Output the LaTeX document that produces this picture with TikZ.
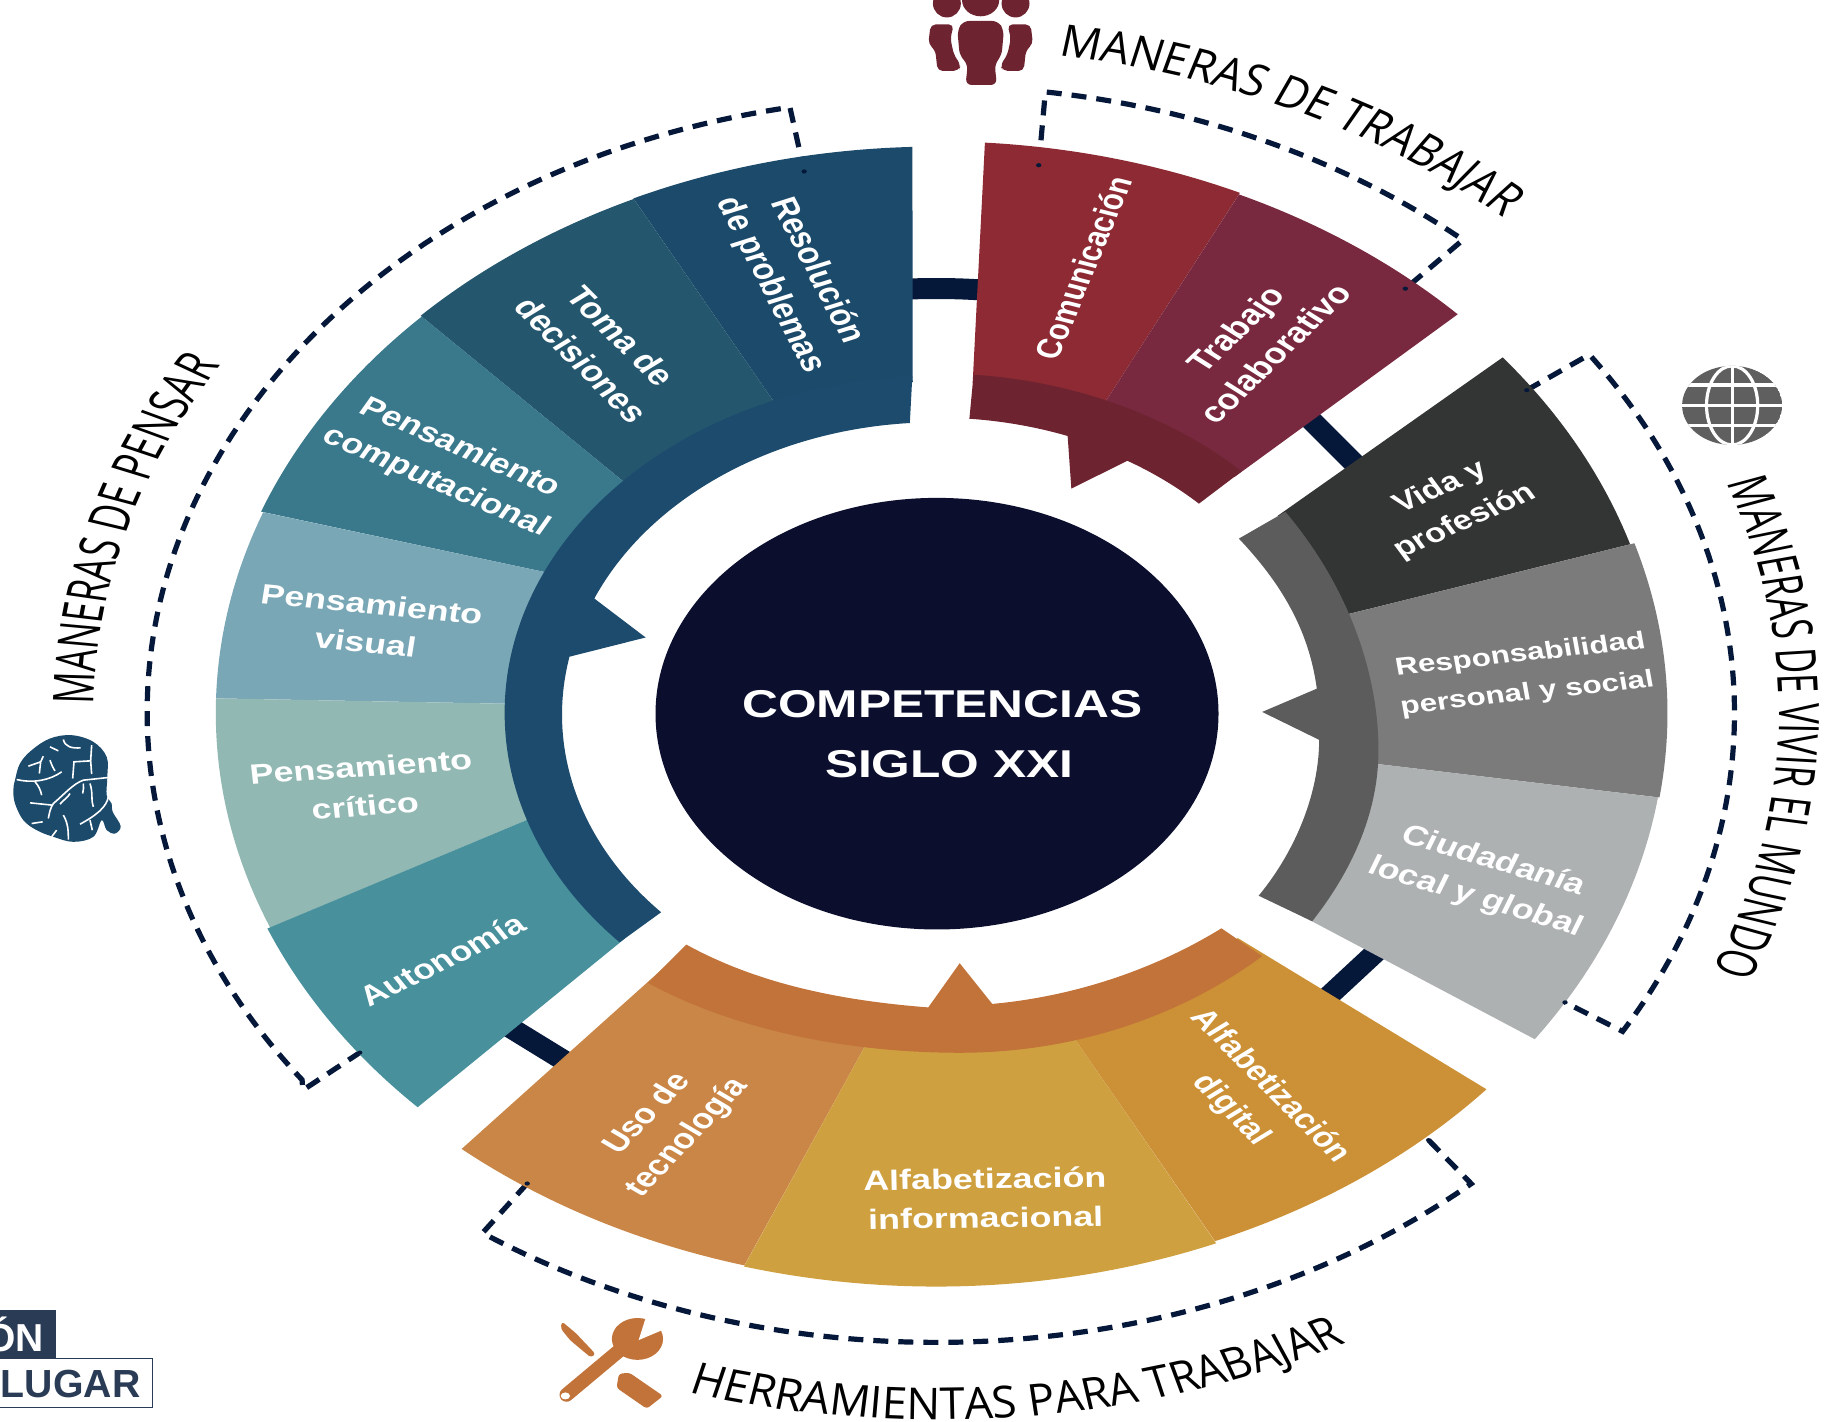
\documentclass[tikz,border=0pt]{standalone}
\usepackage{fontspec}
\setmainfont{Liberation Sans}
\newfontfamily\capfam[FakeStretch=0.8]{Open Sans}
\usetikzlibrary{decorations.text}
\definecolor{navy}{HTML}{05183A}
\definecolor{bResol}{HTML}{1B4A6B}
\definecolor{bToma}{HTML}{24566E}
\definecolor{bComp}{HTML}{3A788C}
\definecolor{bVis}{HTML}{79A7B6}
\definecolor{bCrit}{HTML}{92B8B3}
\definecolor{bAuto}{HTML}{47909C}
\definecolor{bBand}{HTML}{1C4B6D}
\definecolor{rCom}{HTML}{8D2A33}
\definecolor{rTra}{HTML}{78293F}
\definecolor{rBand}{HTML}{6E2430}
\definecolor{gVid}{HTML}{333534}
\definecolor{gRes}{HTML}{7B7B7B}
\definecolor{gCiu}{HTML}{AEB1B2}
\definecolor{gBand}{HTML}{5C5C5C}
\definecolor{oUso}{HTML}{C98646}
\definecolor{oInf}{HTML}{CFA040}
\definecolor{oDig}{HTML}{CC9136}
\definecolor{oBand}{HTML}{C2733A}
\definecolor{core}{HTML}{0B0E2D}
\definecolor{logo}{HTML}{2A3B55}
\definecolor{globeg}{HTML}{5F5F5F}
\newcommand\ringseg[7]{\fill[#1] (#2:#6pt) arc[start angle=#2,end angle=#3,radius=#6pt] -- (#4:#7pt) arc[start angle=#4,end angle=#5,radius=#7pt] -- cycle;}
\newcommand\seglab[6][14]{\begin{scope}[shift={(#2,#3)},xscale=1.28,transform shape]\node[text=white,align=center,rotate=#4,font=\fontsize{#1}{19.5}\selectfont\bfseries,inner sep=0pt] (#5) {#6};\end{scope}}
\newcommand\capstyle{\capfam\fontsize{22}{26}\selectfont}
\newcommand\capstylev{\capfam\fontsize{21.8}{26}\selectfont}
\tikzset{
 bracket/.style={navy,line width=2.6pt,dash pattern=on 7.5pt off 5pt},
 ringscope/.style={shift={(805,613)},xscale=1.28*0.5816,yscale=0.5816},
 captionscope/.style={transform canvas={shift={(805,613)},xscale=1.28}},
 bar/.style={navy,line width=10.5pt},
 endtip/.style={navy}
}
\begin{document}
\begin{tikzpicture}[x=0.5816pt,y=-0.5816pt]
\useasboundingbox (0,0) rectangle (1568,1222.4);
% connector bars and brackets
\begin{scope}[ringscope]
\draw[bar] (96:365pt) arc[start angle=96,end angle=82,radius=365pt];
\draw[bracket] (100.8:474pt) -- (100.7:530pt) arc[start angle=100.7,end angle=216.5,radius=530pt] -- (217.3:535pt) -- (217:485pt);
\draw[bracket] (81.7:476pt) -- (82.2:539pt) arc[start angle=82.2,end angle=49,radius=539pt] -- (49.2:482pt);
\draw[bracket] (35:484pt) -- (35.1:536pt) arc[start angle=35.1,end angle=-30.7,radius=536pt] -- (-30.5:490pt);
\draw[bracket] (235.8:489pt) -- (235.7:541pt) arc[start angle=235.7,end angle=311.6,radius=541pt] -- (312:494pt);
\end{scope}
\coordinate (barA) at (1118,352); \coordinate (barB) at (1168,402);
\coordinate (barC) at (1192,810); \coordinate (barD) at (1136,862);
\coordinate (barE) at (425,875); \coordinate (barF) at (495,918);
\draw[bar] (barA) -- (barB);
\draw[bar] (barC) -- (barD);
\draw[bar] (barE) -- (barF);
\begin{scope}[ringscope]
% blue
\ringseg{bResol}{91.9}{114.7}{112.1}{93.2}{487}{285}
\ringseg{bToma}{114.7}{135.4}{136.6}{112.1}{486.5}{285}
\ringseg{bComp}{135.4}{159.1}{155.1}{136.6}{485.5}{285}
\ringseg{bVis}{159.1}{178.5}{178.4}{155.1}{484}{285}
\ringseg{bCrit}{178.5}{202.4}{198.3}{178.4}{484}{285}
\ringseg{bAuto}{202.4}{224.2}{222.8}{198.3}{486}{285}
\fill[bBand] (93.2:290pt) arc[start angle=93.2,end angle=222.8,radius=290pt] -- (222.8:252pt) arc[start angle=222.8,end angle=168.5,radius=250pt] -- (-195.3pt,65pt) -- (156.8:250pt) arc[start angle=156.8,end angle=94.1,radius=250pt] -- cycle;
% red
\ringseg{rCom}{86.2}{65.5}{67.1}{85.1}{491.5}{285}
\ringseg{rTra}{65.5}{44.4}{45.4}{67.1}{490}{285}
\fill[rBand] (85.1:292pt) arc[start angle=85.1,end angle=45.4,radius=292pt] -- (45.6:252pt) arc[start angle=45.6,end angle=59.4,radius=252pt] -- (90.6pt,193pt) -- (69.7:254pt) arc[start angle=69.7,end angle=85,radius=254pt] -- cycle;
% grey
\ringseg{gVid}{38.8}{17.3}{17.1}{36.5}{488}{285}
\ringseg{gRes}{17.3}{-8.5}{-8.4}{17.1}{491}{285}
\ringseg{gCiu}{-8.5}{-34.9}{-35.4}{-8.4}{490}{300}
% orange
\ringseg{oUso}{229.6}{254.8}{261}{230.1}{492}{280}
\ringseg{oInf}{254.8}{292.4}{287.8}{261}{493}{280}
\ringseg{oDig}{292.4}{318.8}{316.3}{287.8}{491}{280}
% bracket end tips
\fill[endtip] (100.8:474pt) circle[radius=1.8pt];
\fill[endtip] (217:485pt) circle[radius=1.8pt];
\fill[endtip] (81.7:476pt) circle[radius=1.8pt];
\fill[endtip] (49.2:482pt) circle[radius=1.8pt];
\fill[endtip] (35:484pt) circle[radius=1.8pt];
\fill[endtip] (-30.5:490pt) circle[radius=1.8pt];
\fill[endtip] (235.8:489pt) circle[radius=1.8pt];
\fill[endtip] (312:494pt) circle[radius=1.8pt];
\end{scope}
% orange band
\fill[oBand] (557,845) .. controls (625,882) and (720,905) .. (825,905) .. controls (930,905) and (1020,870) .. (1085,822) -- (1050,798) .. controls (990,835) and (920,857) .. (853,863) -- (825,828) -- (798,866) .. controls (720,860) and (650,845) .. (590,812) -- cycle;
% grey band
\fill[gBand] (1105,440) .. controls (1160,505) and (1185,580) .. (1185,645) .. controls (1185,695) and (1165,745) .. (1128,792) -- (1082,770) .. controls (1115,730) and (1134,680) .. (1134,636) -- (1085,612) -- (1132,592) .. controls (1125,540) and (1100,500) .. (1065,463) -- cycle;
% centre
\fill[core] (805.5,613.5) ellipse[x radius=242,y radius=185.5];
\seglab[19.4]{810}{605}{0}{t1}{COMPETENCIAS}
\seglab[19.4]{816}{657}{0}{t2}{SIGLO XXI}
% segment labels
\seglab[14.3]{682}{239}{-68}{l1}{Resolución\\de problemas}
\seglab[14.5]{517}{299}{-52}{l2}{Toma de\\decisiones}
\seglab{385}{400}{-29}{l3}{Pensamiento\\computacional}
\seglab{317}{536}{-7}{l4}{Pensamiento\\visual}
\seglab{312}{676}{5}{l5}{Pensamiento\\crítico}
\seglab{380}{825}{32}{l6}{Autonomía}
\seglab[13.8]{931}{230}{72}{l7}{Comunicación}
\seglab[14.3]{1079}{293}{51}{l8}{Trabajo\\colaborativo}
\seglab[13.5]{1249}{434}{30}{l9}{Vida y\\profesión}
\seglab[12.3]{1310}{580}{8}{l10}{Responsabilidad\\personal y social}
\seglab[14]{1276}{756}{-21}{l11}{Ciudadanía\\local y global}
\seglab{574}{968}{53}{l12}{Uso de\\tecnología}
\seglab{847}{1030}{1}{l13}{Alfabetización\\informacional}
\seglab[13.7]{1075}{944}{-52}{l14}{Alfabetización\\digital}
% curved captions
\begin{scope}[captionscope]
\path[decorate,decoration={text along path,text align=center,text={|\capstyle|MANERAS DE TRABAJAR}}] (92.5:571*0.5816pt) arc[start angle=92.5,end angle=37.5,radius=571*0.5816pt];
\path[decorate,decoration={text along path,text align=center,text={|\capstyle|MANERAS DE PENSAR}}] (188.7:566*0.5816pt) arc[start angle=188.7,end angle=138.7,radius=566*0.5816pt];
\path[decorate,decoration={text along path,text align=center,text={|\capstylev|MANERAS DE VIVIR EL MUNDO}}] (31:566*0.5816pt) arc[start angle=31,end angle=-33.5,radius=566*0.5816pt];
\path[decorate,decoration={text along path,text align=center,text={|\capstyle|HERRAMIENTAS PARA TRABAJAR}}] (245.5:607.5*0.5816pt) arc[start angle=245.5,end angle=305.5,radius=607.5*0.5816pt];
\end{scope}
% people icon
\fill[rBand] (843,0) circle[x radius=16,y radius=14] (814,3) circle[x radius=12,y radius=12] (873,3) circle[x radius=12,y radius=12];
\fill[rBand,rounded corners=3pt] (828,18) -- (858,18) -- (863,26) -- (861,48) -- (855,55) -- (857,73) -- (830,73) -- (832,55) -- (825,48) -- (823,26) -- cycle;
\fill[rBand,rounded corners=2.5pt] (800,21) -- (820,21) -- (817,33) -- (820,47) -- (826,56) -- (824,61) -- (806,61) -- (804,43) -- (798,38) -- cycle;
\fill[rBand,rounded corners=2.5pt] (886,21) -- (866,21) -- (869,33) -- (866,47) -- (860,56) -- (862,61) -- (880,61) -- (882,43) -- (888,38) -- cycle;
% globe icon
\begin{scope}
\clip (1489,348.5) ellipse[x radius=43,y radius=34];
\fill[globeg] (1489,348.5) ellipse[x radius=43,y radius=34];
\draw[white,line width=1.6pt] (1440,331) -- (1540,331) (1440,348.5) -- (1540,348.5) (1440,366) -- (1540,366) (1489,310) -- (1489,390);
\draw[white,line width=1.6pt] (1489,348.5) ellipse[x radius=22,y radius=34];
\end{scope}
% brain icon
\begin{scope}[shift={(0,584.7)},x=0.16665pt,y=-0.16665pt]
\fill[bResol] plot[smooth cycle,tension=0.6] coordinates {(45,300) (60,250) (95,210) (150,175) (215,165) (280,185) (320,230) (322,290) (320,345) (335,370) (338,395) (362,438) (345,460) (320,450) (305,420) (280,470) (220,485) (160,470) (110,450) (70,420) (45,370) (40,330)};
\draw[white,line width=0.8pt] (50,298) .. controls (100,310) and (150,300) .. (185,275)
 (150,200) -- (175,212)
 (85,258) -- (122,245) -- (118,280) (122,245) -- (130,228)
 (150,240) .. controls (155,255) and (160,265) .. (165,272)
 (190,178) .. controls (195,200) and (215,205) .. (242,203)
 (275,195) -- (272,242) -- (222,245) -- (218,295) (272,242) -- (275,282)
 (325,292) -- (250,300) .. controls (220,310) and (190,345) .. (160,370) .. controls (150,385) and (148,400) .. (145,415)
 (90,368) -- (158,375)
 (105,305) .. controls (115,315) and (122,330) .. (125,345)
 (250,310) .. controls (252,320) and (250,330) .. (248,340)
 (270,310) .. controls (280,340) and (272,360) .. (280,380)
 (210,340) .. controls (205,350) and (190,360) .. (180,372)
 (325,350) .. controls (320,380) and (290,405) .. (240,432) (270,420) -- (277,450)
 (190,405) .. controls (205,430) and (205,455) .. (205,478)
 (95,430) -- (128,425) (155,470) -- (170,450);
\end{scope}
% tools icon
\fill[oBand] (548,1151) circle[x radius=22,y radius=18];
\draw[oBand,line width=7pt,line cap=round] (487,1199) -- (536,1158);
\fill[white] (549,1152) -- (556,1130) -- (575,1141) -- cycle;
\fill[white] (486,1200) circle[x radius=4,y radius=3];
\fill[oBand,rounded corners=1.5pt] (483,1136) -- (495,1146) -- (512,1164) -- (508,1167) -- (490,1152) -- (482,1142) -- cycle;
\fill[oBand,rounded corners=1.5pt] (532,1181) -- (541,1180) -- (570,1200) -- (556,1211) -- (530,1193) -- cycle;
% logo
\begin{scope}
\clip (0,0) rectangle (1568,1222.4);
\fill[logo] (0,1126) rectangle (48,1168);
\draw[logo,fill=white,line width=0.7pt] (-2,1168) rectangle (131,1210);
\node[anchor=east,text=white,font=\fontsize{19.5}{20}\selectfont\bfseries,inner sep=0pt] (logoA) at (38,1147) {ÓN};
\node[anchor=east,text=logo,font=\fontsize{19.6}{20}\selectfont\bfseries,inner sep=0pt] (logoB) at (121,1190) {LUGAR};
\end{scope}
\end{tikzpicture}
\end{document}
